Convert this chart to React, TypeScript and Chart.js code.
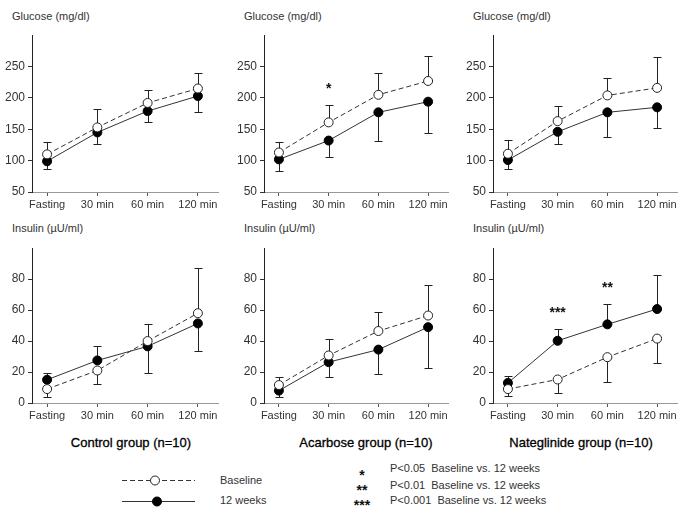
import React, { useEffect, useRef } from 'react';
import { Chart, registerables } from 'chart.js';

Chart.register(...registerables);

// ---------- data ----------
const CATEGORIES = ['Fasting', '30 min', '60 min', '120 min'];
const GLUCOSE_TICKS = [50, 100, 150, 200, 250];
const INSULIN_TICKS = [0, 20, 40, 60, 80];

// Glucose (mg/dl)
const controlGluBase = [110, 153, 192, 215];
const controlGluBaseErr = [19, 30, 21, 24];
const controlGluWk = [99, 145, 179, 203];
const controlGluWkErr = [13, 18, 18, 25];

const acarboseGluBase = [113, 161, 205, 227];
const acarboseGluBaseErr = [16, 28, 34, 40];
const acarboseGluWk = [102, 132, 177, 194];
const acarboseGluWkErr = [19, 26, 45, 50];

const nateglinideGluBase = [111, 163, 204, 216];
const nateglinideGluBaseErr = [22, 24, 27, 49];
const nateglinideGluWk = [101, 146, 177, 185];
const nateglinideGluWkErr = [15, 20, 40, 33];

// Insulin (µU/ml)
const controlInsBase = [9, 21, 40, 58];
const controlInsBaseErr = [5, 8.5, 11, 29];
const controlInsWk = [15, 27.5, 36.6, 51.4];
const controlInsWkErr = [4.5, 9.3, 17, 17.6];

const acarboseInsBase = [11.6, 30.7, 46.5, 56.5];
const acarboseInsBaseErr = [5, 10.6, 12.3, 19.7];
const acarboseInsWk = [8, 26.4, 34.5, 49];
const acarboseInsWkErr = [4, 9.5, 15.5, 26.4];

const nateglinideInsBase = [9, 15.2, 29.6, 41.6];
const nateglinideInsBaseErr = [4.4, 9, 16.3, 16];
const nateglinideInsWk = [13, 40.2, 50.8, 60.7];
const nateglinideInsWkErr = [4.5, 7.4, 13.3, 21.8];

// significance marks
const noSig = ['', '', '', ''];
const acarboseGluSig = ['', '*', '', ''];
const nateglinideInsSig = ['', '***', '**', ''];

const GROUP_LABELS = ['Control group (n=10)', 'Acarbose group (n=10)', 'Nateglinide group (n=10)'];
const GLUCOSE_TITLE = 'Glucose (mg/dl)';
const INSULIN_TITLE = 'Insulin (\u00B5U/ml)';
const SERIES_NAMES = ['Baseline', '12 weeks'];
const SIG_LEGEND = [
  ['*', 'P<0.05  Baseline vs. 12 weeks'],
  ['**', 'P<0.01  Baseline vs. 12 weeks'],
  ['***', 'P<0.001  Baseline vs. 12 weeks'],
];

const FONT = '"Liberation Sans", Arial, sans-serif';

type PanelProps = {
  left: number;
  top: number;
  width: number;
  height: number;
  yMin: number;
  yMax: number;
  yTicks: number[];
  base: number[];
  baseErr: number[];
  wk: number[];
  wkErr: number[];
  sig: string[];
};

function Panel(p: PanelProps) {
  const ref = useRef<HTMLCanvasElement>(null);
  useEffect(() => {
    const errPlugin = {
      id: 'errbars',
      beforeDatasetsDraw(chart: any) {
        const { ctx, scales } = chart;
        const x = scales.x;
        const y = scales.y;
        ctx.save();
        ctx.strokeStyle = '#222';
        ctx.lineWidth = 1;
        const series = [
          [p.base, p.baseErr, p.wk],
          [p.wk, p.wkErr, p.base],
        ];
        for (const [vals, errs, other] of series) {
          for (let i = 0; i < vals.length; i++) {
            const dir = vals[i] >= other[i] ? 1 : -1;
            const px = Math.round(x.getPixelForValue(i)) + 0.5;
            const py0 = y.getPixelForValue(vals[i]);
            const py1 = Math.round(y.getPixelForValue(vals[i] + dir * errs[i])) + 0.5;
            ctx.beginPath();
            ctx.moveTo(px, py0);
            ctx.lineTo(px, py1);
            ctx.moveTo(px - 4, py1);
            ctx.lineTo(px + 4, py1);
            ctx.stroke();
          }
        }
        ctx.restore();
      },
      afterDatasetsDraw(chart: any) {
        const { ctx, scales } = chart;
        const x = scales.x;
        const y = scales.y;
        ctx.save();
        ctx.fillStyle = '#111';
        ctx.font = `bold 14px ${FONT}`;
        ctx.textAlign = 'center';
        ctx.textBaseline = 'alphabetic';
        for (let i = 0; i < p.sig.length; i++) {
          if (!p.sig[i]) continue;
          const upB = p.base[i] >= p.wk[i];
          const topV = Math.max(
            p.base[i] + (upB ? p.baseErr[i] : 0),
            p.wk[i] + (upB ? 0 : p.wkErr[i])
          );
          const py = y.getPixelForValue(topV) - 12;
          ctx.fillText(p.sig[i], x.getPixelForValue(i), py);
        }
        ctx.restore();
      },
    };

    const chart = new Chart(ref.current as HTMLCanvasElement, {
      type: 'line',
      data: {
        datasets: [
          {
            label: SERIES_NAMES[0],
            data: p.base.map((v, i) => ({ x: i, y: v })),
            borderColor: '#333',
            borderWidth: 1,
            borderDash: [5, 3],
            pointRadius: 4.5,
            pointBackgroundColor: '#fff',
            pointBorderColor: '#222',
            pointBorderWidth: 1,
            tension: 0,
          },
          {
            label: SERIES_NAMES[1],
            data: p.wk.map((v, i) => ({ x: i, y: v })),
            borderColor: '#333',
            borderWidth: 1,
            pointRadius: 4.5,
            pointBackgroundColor: '#000',
            pointBorderColor: '#000',
            pointBorderWidth: 1,
            tension: 0,
          },
        ],
      },
      options: {
        responsive: false,
        animation: false,
        devicePixelRatio: 1,
        layout: { padding: { left: 0, right: 10, top: 8, bottom: 0 } },
        plugins: { legend: { display: false }, tooltip: { enabled: false }, title: { display: false } },
        scales: {
          x: {
            type: 'linear',
            min: -0.3,
            max: 3.4,
            afterBuildTicks: (s: any) => {
              s.ticks = CATEGORIES.map((_, i) => ({ value: i }));
            },
            afterFit: (s: any) => {
              s.height = 23;
            },
            ticks: {
              autoSkip: false,
              maxRotation: 0,
              padding: 2,
              color: '#333',
              font: { family: FONT, size: 11 },
              callback: (v: any) => CATEGORIES[v] ?? '',
            },
            grid: { display: true, drawOnChartArea: false, drawTicks: true, tickLength: 4, color: '#555' },
            border: { display: true, color: '#999', width: 1 },
          },
          y: {
            type: 'linear',
            min: p.yMin,
            max: p.yMax,
            afterBuildTicks: (s: any) => {
              s.ticks = p.yTicks.map((v) => ({ value: v }));
            },
            afterFit: (s: any) => {
              s.width = 32;
            },
            ticks: {
              padding: 3,
              color: '#333',
              font: { family: FONT, size: 12 },
            },
            grid: { display: true, drawOnChartArea: false, drawTicks: true, tickLength: 4, color: '#333' },
            border: { display: true, color: '#222', width: 1 },
          },
        },
      } as any,
      plugins: [errPlugin],
    });
    return () => chart.destroy();
  }, []);
  return (
    <canvas
      ref={ref}
      width={p.width}
      height={p.height}
      style={{ position: 'absolute', left: p.left, top: p.top, width: p.width, height: p.height }}
    />
  );
}

const textStyle = (left: number, top: number, size: number, extra: any = {}) => ({
  position: 'absolute' as const,
  left,
  top,
  fontFamily: FONT,
  fontSize: size,
  lineHeight: '13px',
  color: '#333',
  whiteSpace: 'pre' as const,
  ...extra,
});

export default function App() {
  const cols = [0, 232, 461];
  const widths = [228, 226, 226];
  const centers = [131, 366, 581];
  const gluData = [
    [controlGluBase, controlGluBaseErr, controlGluWk, controlGluWkErr, noSig],
    [acarboseGluBase, acarboseGluBaseErr, acarboseGluWk, acarboseGluWkErr, acarboseGluSig],
    [nateglinideGluBase, nateglinideGluBaseErr, nateglinideGluWk, nateglinideGluWkErr, noSig],
  ] as any[];
  const insData = [
    [controlInsBase, controlInsBaseErr, controlInsWk, controlInsWkErr, noSig],
    [acarboseInsBase, acarboseInsBaseErr, acarboseInsWk, acarboseInsWkErr, noSig],
    [nateglinideInsBase, nateglinideInsBaseErr, nateglinideInsWk, nateglinideInsWkErr, nateglinideInsSig],
  ] as any[];

  return (
    <div
      style={{
        position: 'absolute',
        left: 0,
        top: 0,
        width: 685,
        height: 513,
        overflow: 'hidden',
        background: '#fff',
      }}
    >
      {cols.map((c, k) => (
        <React.Fragment key={'c' + k}>
          <div style={textStyle(c + 12, 10, 11)}>{GLUCOSE_TITLE}</div>
          <Panel
            left={c}
            top={25}
            width={widths[k]}
            height={190}
            yMin={50}
            yMax={300}
            yTicks={GLUCOSE_TICKS}
            base={gluData[k][0]}
            baseErr={gluData[k][1]}
            wk={gluData[k][2]}
            wkErr={gluData[k][3]}
            sig={gluData[k][4]}
          />
          <div style={textStyle(c + 12, 222, 11)}>{INSULIN_TITLE}</div>
          <Panel
            left={c}
            top={238}
            width={widths[k]}
            height={188}
            yMin={0}
            yMax={100}
            yTicks={INSULIN_TICKS}
            base={insData[k][0]}
            baseErr={insData[k][1]}
            wk={insData[k][2]}
            wkErr={insData[k][3]}
            sig={insData[k][4]}
          />
          <div
            style={textStyle(centers[k] - 100, 435, 13, {
              width: 200,
              textAlign: 'center',
              color: '#000',
              lineHeight: '15px',
              WebkitTextStroke: '0.3px #000',
            })}
          >
            {GROUP_LABELS[k]}
          </div>
        </React.Fragment>
      ))}

      {/* legend: series */}
      <svg style={{ position: 'absolute', left: 115, top: 468, width: 90, height: 42 }} width={90} height={42}>
        <line x1={7} y1={12.5} x2={80} y2={12.5} stroke="#333" strokeWidth={1} strokeDasharray="5 3" />
        <circle cx={40} cy={12.5} r={4.5} fill="#fff" stroke="#222" strokeWidth={1} />
        <line x1={7} y1={33.5} x2={80} y2={33.5} stroke="#333" strokeWidth={1} />
        <circle cx={42} cy={33.5} r={4.5} fill="#000" stroke="#000" strokeWidth={1} />
      </svg>
      <div style={textStyle(220, 474, 11)}>{SERIES_NAMES[0]}</div>
      <div style={textStyle(220, 494, 11)}>{SERIES_NAMES[1]}</div>

      {/* legend: significance */}
      {SIG_LEGEND.map(([s, t], i) => (
        <React.Fragment key={'s' + i}>
          <div
            style={textStyle(342, [468, 483, 498][i], 14, {
              width: 40,
              textAlign: 'center',
              fontWeight: 'bold',
              color: '#111',
              lineHeight: '14px',
            })}
          >
            {s}
          </div>
          <div style={textStyle(390, [462, 479, 494][i], 11)}>{t}</div>
        </React.Fragment>
      ))}
    </div>
  );
}
